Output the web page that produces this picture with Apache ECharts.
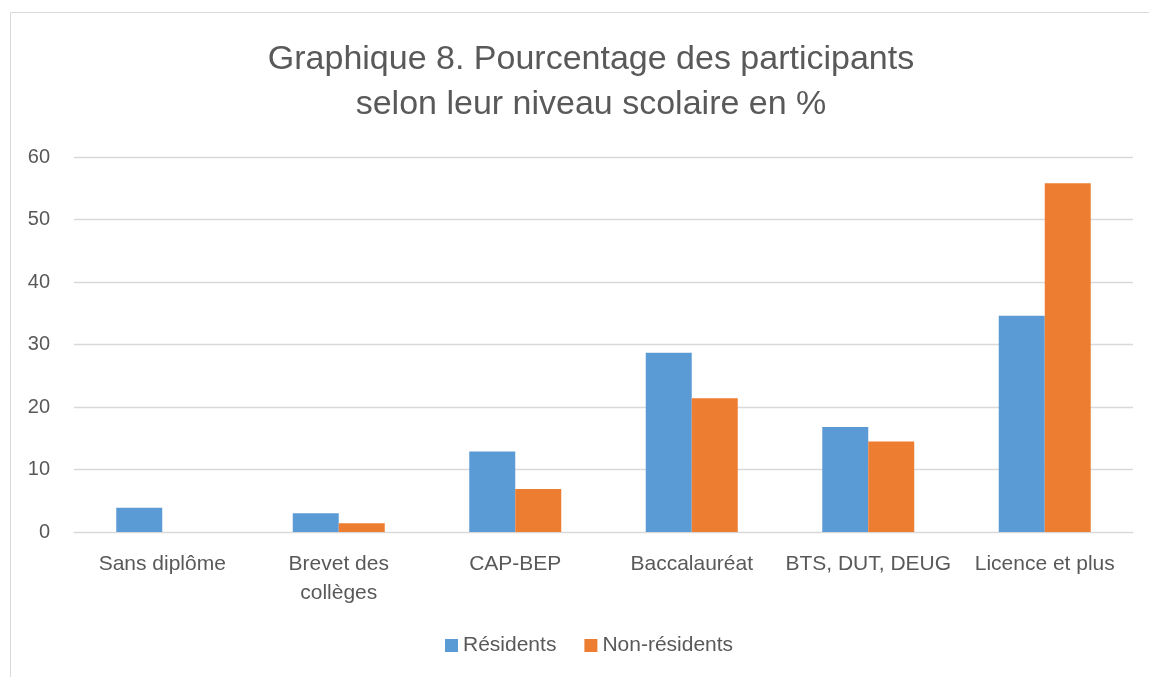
<!DOCTYPE html>
<html>
<head>
<meta charset="utf-8">
<script src="https://cdn.jsdelivr.net/npm/echarts@6/dist/echarts.min.js"></script>
<style>
  html, body { margin: 0; padding: 0; background: #fff; }
  #chart { width: 1149px; height: 677px; }
</style>
</head>
<body>
<div id="chart"></div>
<script>
const categories = ['Sans diplôme', 'Brevet des collèges', 'CAP-BEP', 'Baccalauréat', 'BTS, DUT, DEUG', 'Licence et plus'];
const residents = [3.9, 3.0, 12.9, 28.7, 16.8, 34.6];
const nonResidents = [0, 1.4, 6.9, 21.4, 14.5, 55.8];
const yTicks = { min: 0, max: 60, interval: 10 };

const chart = echarts.init(document.getElementById('chart'));
const font = '"Liberation Sans", "DejaVu Sans", sans-serif';

chart.setOption({
    backgroundColor: '#fff',
    textStyle: { fontFamily: font },
    graphic: [{
        type: 'rect',
        shape: { x: 10.5, y: 12.5, width: 1200, height: 700 },
        style: { fill: 'none', stroke: '#d9d9d9', lineWidth: 1 },
        silent: true
    }],
    title: {
        text: 'Graphique 8. Pourcentage des participants\nselon leur niveau scolaire en %',
        left: 586,
        top: 32,
        textAlign: 'center',
        textStyle: {
            fontFamily: font,
            fontSize: 34,
            fontWeight: 'normal',
            color: '#595959',
            lineHeight: 45
        }
    },
    legend: {
        bottom: 16,
        left: 440,
        icon: 'rect',
        itemWidth: 13,
        itemHeight: 13,
        itemGap: 28,
        textStyle: { fontSize: 21, color: '#595959', fontFamily: font },
        data: ['Résidents', 'Non-résidents']
    },
    grid: { left: 74, right: 16, top: 157, bottom: 145 },
    xAxis: {
        type: 'category',
        data: categories,
        axisLine: { lineStyle: { color: '#d9d9d9' } },
        axisTick: { show: false },
        axisLabel: {
            fontSize: 21,
            color: '#595959',
            margin: 18,
            lineHeight: 29,
            interval: 0,
            formatter: v => v === 'Brevet des collèges' ? 'Brevet des\ncollèges' : v
        }
    },
    yAxis: {
        type: 'value',
        min: yTicks.min,
        max: yTicks.max,
        interval: yTicks.interval,
        axisLine: { show: false },
        axisTick: { show: false },
        axisLabel: { fontSize: 20, color: '#595959', margin: 24 },
        splitLine: { lineStyle: { color: '#d9d9d9', width: 1.3 } }
    },
    series: [
        {
            name: 'Résidents',
            type: 'bar',
            data: residents,
            barWidth: 46,
            barGap: '0%',
            itemStyle: { color: '#5b9bd5' }
        },
        {
            name: 'Non-résidents',
            type: 'bar',
            data: nonResidents,
            barWidth: 46,
            itemStyle: { color: '#ed7d31' }
        }
    ]
});
</script>
</body>
</html>
